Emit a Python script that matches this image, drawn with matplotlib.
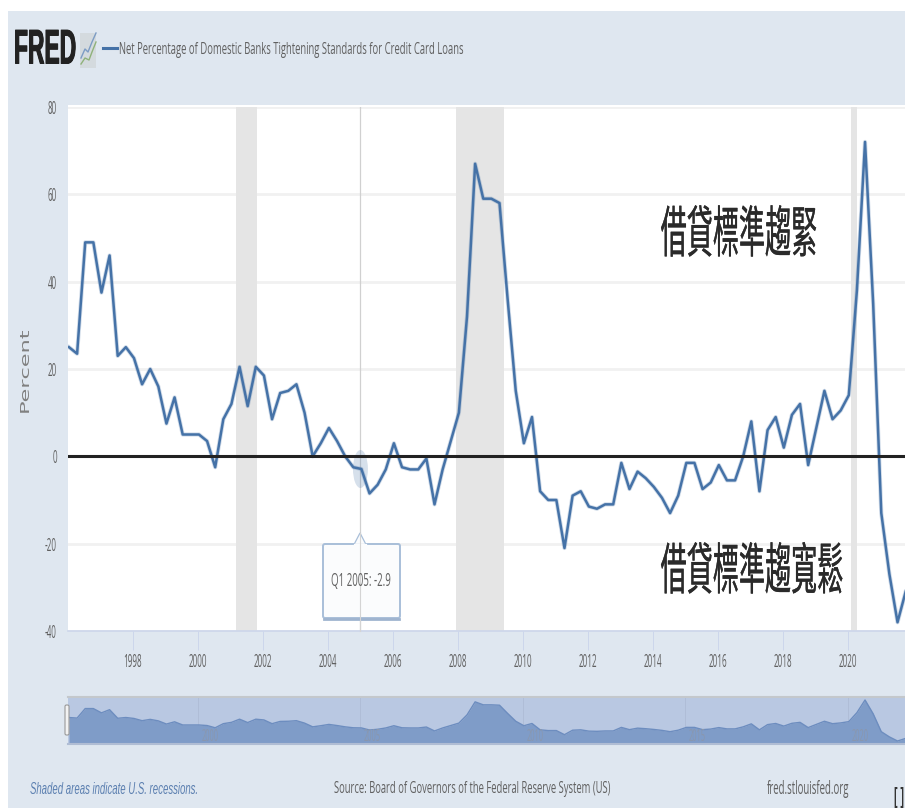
import string
import matplotlib
matplotlib.use("Agg")
import matplotlib.pyplot as plt
import matplotlib.patheffects as pe
from matplotlib import font_manager
from matplotlib.font_manager import FontProperties
from matplotlib.patches import Ellipse, FancyBboxPatch, Polygon
from fontTools.fontBuilder import FontBuilder
from fontTools.pens.boundsPen import ControlBoundsPen
from fontTools.pens.cu2quPen import Cu2QuPen
from fontTools.pens.recordingPen import DecomposingRecordingPen
from fontTools.pens.transformPen import TransformPen
from fontTools.pens.ttGlyphPen import TTGlyphPen
from fontTools.ttLib import TTCollection, TTFont

plt.rcParams["axes.unicode_minus"] = False

W, H = 905, 808

# quarterly values starting at Q1 1996
start_year = 1996.03
values = [25, 23.5, 49, 49,
          37.5, 46, 23, 25,
          22.5, 16.5, 20, 16,
          7.5, 13.5, 5, 5,
          5, 3.5, -2.5, 8.5,
          12, 20.5, 11.5, 20.5,
          18.5, 8.5, 14.5, 15,
          16.5, 10, 0, 3,
          6.5, 3.5, 0, -2.5,
          -2.9, -8.5, -6.5, -3,
          3, -2.5, -3, -3,
          -0.5, -11, -3, 3.5,
          10, 32, 67, 59,
          59, 58, 36, 15,
          3, 9, -8, -10,
          -10, -21, -9, -8,
          -11.5, -12, -11, -11,
          -1.5, -7.5, -3.5, -5,
          -7, -9.5, -13, -9,
          -1.5, -1.5, -7.5, -6,
          -2, -5.5, -5.5, 0,
          8, -8, 6, 9,
          2, 9.5, 12, -2,
          6.5, 15, 8.5, 10.5,
          14, 38, 72, 35,
          -13, -27, -38, -31]
years = [start_year + i * 0.25 for i in range(len(values))]

recessions = [(2001.18, 2001.82), (2007.95, 2009.42), (2020.1, 2020.29)]
y_ticks = [-40, -20, 0, 20, 40, 60, 80]
x_ticks = list(range(1998, 2021, 2))
nav_ticks = [2000, 2005, 2010, 2015, 2020]

title = "Net Percentage of Domestic Banks Tightening Standards for Credit Card Loans"
tight_label = "借貸標準趨緊"
loose_label = "借貸標準趨寬鬆"

bg = "#dfe7f0"
line_color = "#4572a7"
grey_text = "#606060"


# the reference image is squeezed sideways, no installed font is that narrow
def squeezed_font(out_name, chars, sx, family, weight="normal", style="normal"):
    path = font_manager.findfont(FontProperties(family=family, weight=weight, style=style))
    if path.endswith(".ttc"):
        src = TTCollection(path).fonts[0]
        for face in TTCollection(path).fonts:
            if "TC" in str(face["name"].getDebugName(4)):
                src = face
    else:
        src = TTFont(path)
    glyph_set = src.getGlyphSet()
    cmap = src.getBestCmap()
    new_cmap = {ord(c): cmap[ord(c)] for c in chars if ord(c) in cmap}
    order = [".notdef"] + sorted(set(new_cmap.values()) - {".notdef"})
    glyphs, metrics = {}, {}
    for name in order:
        rec = DecomposingRecordingPen(glyph_set)
        glyph_set[name].draw(rec)
        pen = TTGlyphPen(None)
        rec.replay(TransformPen(Cu2QuPen(pen, 1.0), (sx, 0, 0, 1, 0, 0)))
        glyphs[name] = pen.glyph()
        bounds = ControlBoundsPen(None)
        rec.replay(TransformPen(bounds, (sx, 0, 0, 1, 0, 0)))
        lsb = round(bounds.bounds[0]) if bounds.bounds else 0
        metrics[name] = (round(glyph_set[name].width * sx), lsb)
    fb = FontBuilder(src["head"].unitsPerEm, isTTF=True)
    fb.setupGlyphOrder(order)
    fb.setupCharacterMap(new_cmap)
    fb.setupGlyf(glyphs)
    fb.setupHorizontalMetrics(metrics)
    fb.setupHorizontalHeader(ascent=src["hhea"].ascent, descent=src["hhea"].descent)
    fb.setupNameTable({"familyName": out_name, "styleName": "Regular"})
    fb.setupOS2()
    fb.setupPost()
    fb.save(out_name + ".ttf")
    return out_name + ".ttf"


def fp(path, size):
    return FontProperties(fname=path, size=size)


ascii_chars = string.ascii_letters + string.digits + string.punctuation + " "
f_text = squeezed_font("sq_text", ascii_chars, 0.56, "Open Sans")
f_tick = squeezed_font("sq_tick", ascii_chars, 0.45, "Open Sans")
f_italic = squeezed_font("sq_ital", ascii_chars, 0.575, "Liberation Sans", style="italic")
f_logo = squeezed_font("sq_logo", ascii_chars, 0.47, "Liberation Sans", weight="bold")
f_wide = squeezed_font("sq_wide", ascii_chars, 1.9, "DejaVu Sans")
f_cjk = squeezed_font("sq_cjk", tight_label + loose_label, 0.47, "Noto Sans CJK TC")


def box(left, top, right, bottom):
    return [left / W, 1 - bottom / H, (right - left) / W, (bottom - top) / H]


fig = plt.figure(figsize=(W / 100, H / 100), dpi=100, facecolor="white")

# page background, in pixel coordinates
deco = fig.add_axes([0, 0, 1, 1], zorder=0)
deco.set_xlim(0, W)
deco.set_ylim(H, 0)
deco.axis("off")
deco.add_patch(plt.Rectangle((8, 11), W - 8, H - 11, color=bg, lw=0))
deco.add_patch(plt.Rectangle((68, 105), W - 68, 4, color="white", lw=0))

# main chart
x_min, x_max = 1996.0, 2021.76
ax = fig.add_axes(box(68, 107, 905, 631), zorder=1)
ax.set_xlim(x_min, x_max)
ax.set_ylim(-40, 80)
ax.set_facecolor("white")
for s in ["top", "right", "left"]:
    ax.spines[s].set_visible(False)
ax.spines["bottom"].set_color("#ccd6eb")
ax.spines["bottom"].set_linewidth(1.2)
for a, b in recessions:
    ax.axvspan(a, b, color="#e5e5e5", lw=0, zorder=1)
ax.set_yticks(y_ticks)
ax.set_xticks(x_ticks)
ax.grid(axis="y", color="#f1f1f1", lw=2, zorder=0)
ax.set_axisbelow(True)
ax.tick_params(axis="y", length=0, pad=8, labelcolor=grey_text)
ax.tick_params(axis="x", length=14, width=0.7, color="#ccd6eb", pad=2, labelcolor=grey_text)
for lab in ax.get_xticklabels() + ax.get_yticklabels():
    lab.set_fontproperties(fp(f_tick, 13))
ax.axvline(2005.0, color="#d0d0d0", lw=0.9, zorder=2)
ax.plot(years, values, color=line_color, lw=3.0, alpha=0.25, zorder=3)
ax.plot(years, values, color=line_color, lw=1.8, zorder=4)
ax.axhline(0, color="#222222", lw=2.2, zorder=5)
ax.add_patch(Ellipse((2005.0, values[36]), 0.46, 8.7, color=line_color, alpha=0.22, lw=0, zorder=3))

deco.text(24, 369, "Percent", rotation=90, ha="center", va="center", color="#808080",
          fontproperties=fp(f_wide, 8.5))

# overlay: annotations on top of the chart
over = fig.add_axes([0, 0, 1, 1], zorder=3)
over.set_xlim(0, W)
over.set_ylim(H, 0)
over.axis("off")
over.patch.set_alpha(0)
heavy = [pe.withStroke(linewidth=0.2, foreground="#333333")]
over.text(739, 231, tight_label, ha="center", va="center", color="#2a2a2a", fontproperties=fp(f_cjk, 40),
          path_effects=heavy)
over.text(752, 568, loose_label, ha="center", va="center", color="#2a2a2a", fontproperties=fp(f_cjk, 40),
          path_effects=heavy)

# tooltip
over.add_patch(FancyBboxPatch((323, 544), 77, 74, boxstyle="round,pad=0,rounding_size=2",
                              fc="#fbfcfd", ec="#a9bfd9", lw=1.4))
over.add_patch(Polygon([(354, 544.5), (360, 533), (366, 544.5)], closed=True, fc="#fbfcfd",
                       ec="#a9bfd9", lw=0.9))
over.plot([354.5, 365.5], [545, 545], color="#fbfcfd", lw=1.6)
over.plot([324, 399], [619, 619], color="#9fb4cf", lw=2)
over.plot([360, 360], [533, 631], color="#d4d4d4", lw=0.8)
over.text(361, 581, "Q1 2005: -2.9", ha="center", va="center", color="#606060", fontproperties=fp(f_text, 12.5))

# header
over.text(14, 51, "FRED", ha="left", va="center", color="#222222", fontproperties=fp(f_logo, 35),
          path_effects=[pe.withStroke(linewidth=0.7, foreground="#222222")])
over.add_patch(plt.Rectangle((80, 33), 16, 35, color="#d4dade", lw=0))
over.plot([81, 85, 88, 92, 96], [58, 49, 52, 42, 33], color="#7c9cc4", lw=1)
over.plot([81, 85, 89, 92, 96], [64, 58, 60, 52, 42], color="#8fb27a", lw=1)
over.plot([103, 117], [48, 48], color=line_color, lw=2.2)
over.text(119, 50, title, ha="left", va="center", color="#606060", fontproperties=fp(f_text, 12.2))

# navigator
nav = fig.add_axes(box(68, 697, 905, 744), zorder=2)
nav.set_xlim(x_min, x_max)
nav.set_ylim(-46, 80)
nav.set_facecolor("#b9c8e2")
nav.fill_between(years, values, -46, color="#7f9cc8", lw=0)
nav.plot(years, values, color="#6d8dbf", lw=1)
nav.set_xticks([])
nav.set_yticks([])
for s in ["left", "right"]:
    nav.spines[s].set_visible(False)
nav.spines["top"].set_color("#c4c8cc")
nav.spines["top"].set_linewidth(1.5)
nav.spines["bottom"].set_color("#b0bdd4")
nav.spines["bottom"].set_linewidth(1.5)
for y in nav_ticks:
    nav.axvline(y, color="#aebcd6", lw=0.6, zorder=0.5)
    nav.text(y + 0.37, -27, str(y), ha="center", va="center", color="#8a97ad", fontproperties=fp(f_tick, 12))
over.add_patch(FancyBboxPatch((65, 705), 4, 30, boxstyle="round,pad=0,rounding_size=1.5",
                              fc="#f2f2f2", ec="#999999", lw=0.8))

# footer
over.text(30, 789, "Shaded areas indicate U.S. recessions.", ha="left", va="center", color="#5b7fb0",
          fontproperties=fp(f_italic, 12))
over.text(334, 789, "Source: Board of Governors of the Federal Reserve System (US)", ha="left", va="center",
          color="#606060", fontproperties=fp(f_text, 12.15))
over.text(767, 789, "fred.stlouisfed.org", ha="left", va="center", color="#606060", fontproperties=fp(f_text, 12.4))
over.text(899, 798, "[ ]", ha="center", va="center", color="#333333", fontproperties=fp(f_logo, 16))

fig.savefig("out.png", dpi=100, facecolor="white")
